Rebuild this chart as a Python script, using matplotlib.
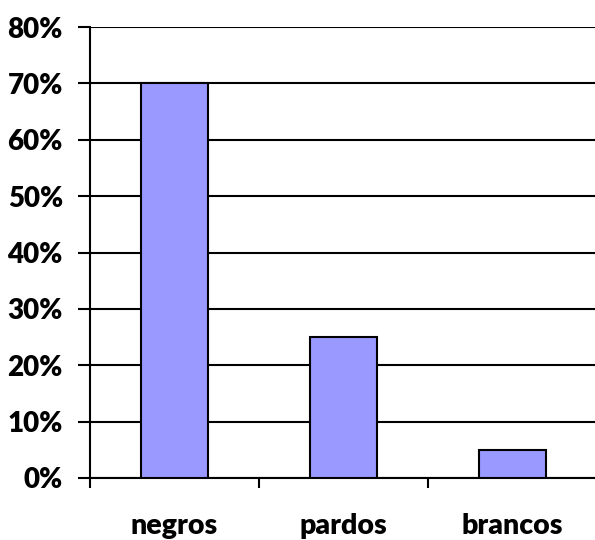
import matplotlib
matplotlib.use("Agg")
import matplotlib.pyplot as plt
from matplotlib.ticker import PercentFormatter

categories = ["negros", "pardos", "brancos"]
values = [0.70, 0.25, 0.05]
y_ticks = [0.0, 0.1, 0.2, 0.3, 0.4, 0.5, 0.6, 0.7, 0.8]

plt.rcParams["font.family"] = ["Lato", "DejaVu Sans"]
plt.rcParams["font.weight"] = "heavy"

fig = plt.figure(figsize=(5.95, 5.4), dpi=100)
ax = fig.add_axes([90 / 595, 62 / 540, 507 / 595, 451 / 540])

x = range(len(categories))
ax.bar(x, values, width=0.4, color="#9999FF", edgecolor="black", linewidth=1.5, zorder=3)

ax.set_ylim(0, 0.8)
ax.set_xlim(-0.5, len(categories) - 0.5)
ax.set_yticks(y_ticks)
ax.yaxis.set_major_formatter(PercentFormatter(1.0, decimals=0))
ax.grid(axis="y", color="black", linewidth=1.5, zorder=0)

# category labels centred, tick marks on category boundaries
ax.set_xticks([i - 0.5 for i in range(len(categories) + 1)])
ax.set_xticklabels([])
ax.set_xticks(list(x), minor=True)
ax.set_xticklabels(categories, minor=True, fontsize=20.5, fontweight="heavy")
ax.tick_params(axis="x", which="major", direction="out", length=7, width=1.5)
ax.tick_params(axis="x", which="minor", length=0, pad=25)
ax.tick_params(axis="y", direction="out", length=8.5, width=1.5, labelsize=20, pad=11)

for s in ["top", "right"]:
    ax.spines[s].set_visible(False)
ax.spines["left"].set_linewidth(1.5)
ax.spines["bottom"].set_linewidth(1.5)

fig.savefig("out.png", dpi=100)
